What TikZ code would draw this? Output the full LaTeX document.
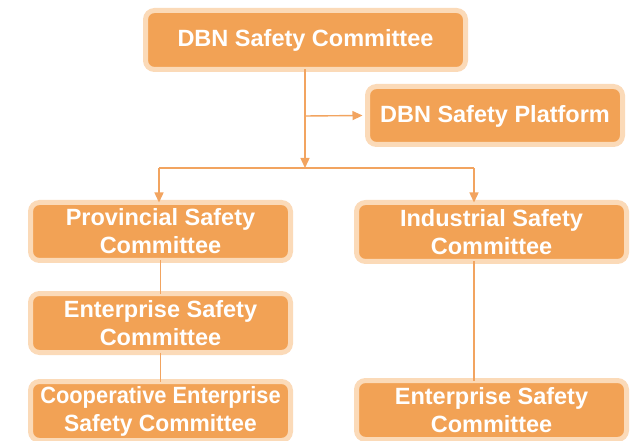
\documentclass[tikz,border=0pt]{standalone}
\usepackage{fontspec}
\setmainfont{Liberation Sans}
\usetikzlibrary{arrows.meta}
\definecolor{boxfill}{RGB}{242,162,85}
\definecolor{boxedge}{RGB}{251,218,184}
\definecolor{conn}{RGB}{242,164,96}
\tikzset{
  orgbox/.style={rectangle, rounded corners=9pt, fill=boxfill, draw=boxedge, line width=5pt,
    text=white, font=\fontsize{23.5}{28}\selectfont\bfseries, align=center, inner sep=0pt},
  onebox/.style={orgbox, text height=17pt, text depth=3pt},
  link/.style={draw=conn, line width=1.4pt},
  arr/.style={link, -{Triangle[length=10pt,width=9pt]}}
}
\begin{document}
\begin{tikzpicture}[x=1pt,y=-1pt]
\useasboundingbox (0,0) rectangle (638,441);
\clip (0,0) rectangle (638,441);
\node[onebox, minimum width=320pt, minimum height=59pt] (top) at (305.5,40) {DBN Safety Committee};
\node[onebox, minimum width=255pt, minimum height=58pt] (plat) at (495,115.5) {DBN Safety Platform};
\node[orgbox, minimum width=260pt, minimum height=58pt] (prov) at (160.5,231.5) {Provincial Safety\\Committee};
\node[orgbox, minimum width=260pt, minimum height=59pt] (ent1) at (160.5,323) {Enterprise Safety\\Committee};
\node[orgbox, minimum width=260pt, minimum height=59pt] (coop) at (160.5,411) {\scalebox{0.93}[1]{Cooperative Enterprise}\\\scalebox{0.97}[1]{Safety Committee}};
\node[orgbox, minimum width=270pt, minimum height=59pt] (ind) at (491.5,232) {Industrial Safety\\Committee};
\node[orgbox, minimum width=270pt, minimum height=59pt] (ent2) at (491.5,410) {Enterprise Safety\\Committee};
\coordinate (split) at (305,168);
\coordinate (side) at (305,116);
\coordinate (bl) at (159,168);
\coordinate (br) at (474,168);
\draw[arr] ([xshift=-0.5pt,yshift=2.5pt]top.south) -- (split);
\draw[arr] (side) -- ([xshift=-2.5pt]plat.west);
\draw[link] (bl) -- (br);
\draw[arr] (bl) -- ([yshift=-2.5pt]bl |- prov.north);
\draw[arr] (br) -- ([yshift=-2.5pt]br |- ind.north);
\draw[link] ([yshift=2.5pt]prov.south) -- ([yshift=-2.5pt]ent1.north);
\draw[link] ([yshift=2.5pt]ent1.south) -- ([yshift=-2.5pt]coop.north);
\draw[link] ([yshift=2.5pt]br |- ind.south) -- ([yshift=-2.5pt]br |- ent2.north);
\end{tikzpicture}
\end{document}
